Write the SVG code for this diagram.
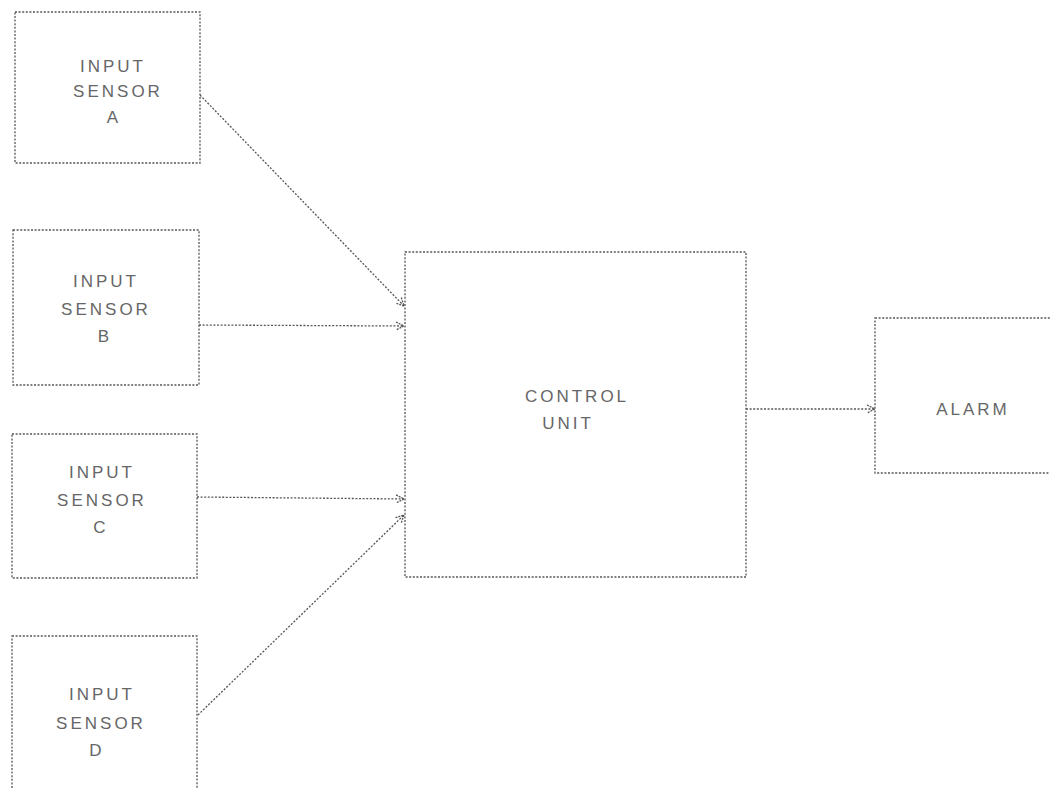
<svg xmlns="http://www.w3.org/2000/svg" width="1050" height="789" viewBox="0 0 1050 789">
<defs>
<style>
.box{fill:#fff;stroke:#555;stroke-width:1.3;stroke-dasharray:2 1.6}
.lbl{font-family:"Liberation Sans",Arial,sans-serif;font-size:17px;fill:#666;letter-spacing:3px;text-anchor:middle}
.con{stroke:#555;stroke-width:1.3;stroke-dasharray:2 1.6;fill:none}
</style>
<marker id="arr" viewBox="0 0 10 10" refX="9" refY="5" markerWidth="10" markerHeight="10" markerUnits="userSpaceOnUse" orient="auto">
<path d="M1,1 L9,5 L1,9" fill="none" stroke="#555" stroke-width="1.3" stroke-dasharray="2 1"/>
</marker>
</defs>
<rect width="1050" height="789" fill="#fff"/>
<g id="connectors">
<line class="con" x1="200" y1="95" x2="404" y2="306" marker-end="url(#arr)"/>
<line class="con" x1="199" y1="325" x2="404" y2="326" marker-end="url(#arr)"/>
<line class="con" x1="197" y1="497" x2="404" y2="499" marker-end="url(#arr)"/>
<line class="con" x1="198" y1="715" x2="404" y2="515" marker-end="url(#arr)"/>
<line class="con" x1="746" y1="409" x2="875" y2="409" marker-end="url(#arr)"/>
</g>
<g id="sensorA">
<rect class="box" x="15" y="12" width="185" height="151"/>
<text class="lbl" x="113" y="72">INPUT</text>
<text class="lbl" x="118" y="97">SENSOR</text>
<text class="lbl" x="114" y="123">A</text>
</g>
<g id="sensorB">
<rect class="box" x="13" y="230" width="186" height="155"/>
<text class="lbl" x="106" y="287">INPUT</text>
<text class="lbl" x="106" y="315">SENSOR</text>
<text class="lbl" x="105" y="342">B</text>
</g>
<g id="sensorC">
<rect class="box" x="12" y="434" width="185" height="144"/>
<text class="lbl" x="102" y="478">INPUT</text>
<text class="lbl" x="102" y="506">SENSOR</text>
<text class="lbl" x="101" y="533">C</text>
</g>
<g id="sensorD">
<rect class="box" x="12" y="636" width="185" height="170"/>
<text class="lbl" x="102" y="700">INPUT</text>
<text class="lbl" x="101" y="729">SENSOR</text>
<text class="lbl" x="97" y="756">D</text>
</g>
<g id="controlUnit">
<rect class="box" x="405" y="252" width="341" height="325"/>
<text class="lbl" x="577" y="402">CONTROL</text>
<text class="lbl" x="568" y="429">UNIT</text>
</g>
<g id="alarm">
<rect class="box" x="875" y="318" width="200" height="155"/>
<text class="lbl" x="973" y="415">ALARM</text>
</g>
</svg>
